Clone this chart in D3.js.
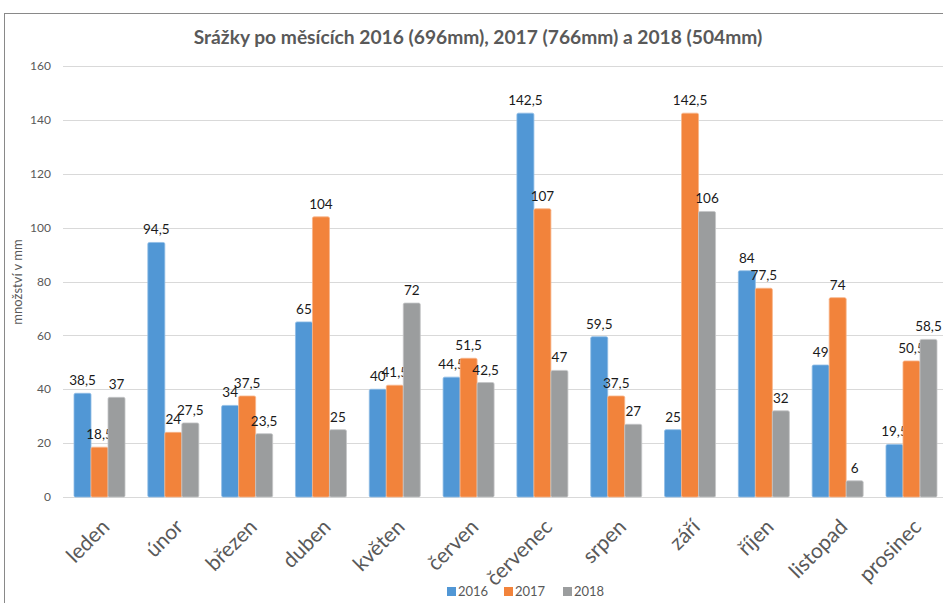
<!DOCTYPE html>
<html><head><meta charset="utf-8">
<script src="https://cdn.jsdelivr.net/npm/d3@7"></script>
<style>body{margin:0;background:#fff}svg{display:block}</style>
</head><body>
<svg id="c" width="943" height="603"></svg>
<script>
const categories = ["leden","únor","březen","duben","květen","červen","červenec","srpen","září","říjen","listopad","prosinec"];
const seriesNames = ["2016","2017","2018"];
const v2016 = [38.5,94.5,34,65,40,44.5,142.5,59.5,25,84,49,19.5];
const v2017 = [18.5,24,37.5,104,41.5,51.5,107,37.5,142.5,77.5,74,50.5];
const v2018 = [37,27.5,23.5,25,72,42.5,47,27,106,32,6,58.5];
const yTicks = [0,20,40,60,80,100,120,140,160];
const title = "Srážky po měsících 2016 (696mm), 2017 (766mm) a 2018 (504mm)";
const yTitle = "množství v mm";
const colors = ["#5197d5","#f2833b","#9b9d9e"];
const strokes = ["#8fbde6","#f7b58a","#c4c5c6"];

const values = [v2016, v2017, v2018];
const font = "Lato, 'Open Sans', sans-serif";
const svg = d3.select("#c");

// chart border
svg.append("rect").attr("x",4.5).attr("y",13.5).attr("width",960).attr("height",620)
  .attr("fill","#fff").attr("stroke","#898989").attr("stroke-width",1);

const x = d3.scaleBand().domain(categories).range([62.6,948.4]).paddingInner(0.309).paddingOuter(0.1545);
const xs = d3.scaleBand().domain(seriesNames).range([0,x.bandwidth()]);
const y = d3.scaleLinear().domain([0,160]).range([497,66]);

// gridlines
svg.append("g").selectAll("line").data(yTicks).join("line")
  .attr("x1",63).attr("x2",943).attr("y1",d=>Math.round(y(d))+0.5).attr("y2",d=>Math.round(y(d))+0.5)
  .attr("stroke","#d9d9d9").attr("stroke-width",1);

// y tick labels
svg.append("g").selectAll("text").data(yTicks).join("text")
  .attr("x",51).attr("y",d=>y(d)).attr("dy","0.35em").attr("text-anchor","end")
  .attr("font-family",font).attr("font-size",12).attr("fill","#595959").text(d=>d);

// bars
const g = svg.append("g");
categories.forEach((c,i)=>{
  seriesNames.forEach((s,j)=>{
    const val = values[j][i];
    g.append("rect")
      .attr("x",x(c)+xs(s)).attr("y",y(val))
      .attr("width",xs.bandwidth()).attr("height",y(0)-y(val))
      .attr("rx",1.5)
      .attr("fill",colors[j]).attr("stroke",strokes[j]).attr("stroke-width",0.8);
    g.append("text")
      .attr("x",x(c)+xs(s)+xs.bandwidth()/2).attr("y",y(val)-8)
      .attr("text-anchor","middle").attr("font-family",font).attr("font-size",13.5)
      .attr("fill","#1a1a1a").text(String(val).replace(".",","));
  });
});

// x labels
svg.append("g").selectAll("text").data(categories).join("text")
  .attr("transform",d=>`translate(${x(d)+x.bandwidth()/2+6},${523}) rotate(-45)`)
  .attr("text-anchor","end").attr("dy","0.35em")
  .attr("font-family",font).attr("font-size",21).attr("fill","#595959").text(d=>d);

// title
svg.append("text").attr("x",478).attr("y",44).attr("text-anchor","middle")
  .attr("font-family",font).attr("font-weight","bold").attr("font-size",19.2)
  .attr("fill","#595959").text(title);

// y title
svg.append("text").attr("transform","translate(22,282) rotate(-90)")
  .attr("text-anchor","middle").attr("font-family",font).attr("font-size",13)
  .attr("fill","#595959").text(yTitle);

// legend
const legX = [447,504,563];
const lg = svg.append("g");
seriesNames.forEach((s,j)=>{
  lg.append("rect").attr("x",legX[j]).attr("y",587).attr("width",9).attr("height",9).attr("fill",colors[j]);
  lg.append("text").attr("x",legX[j]+11).attr("y",591.5).attr("dy","0.35em")
    .attr("font-family",font).attr("font-size",13).attr("fill","#595959").text(s);
});
</script>
</body></html>
